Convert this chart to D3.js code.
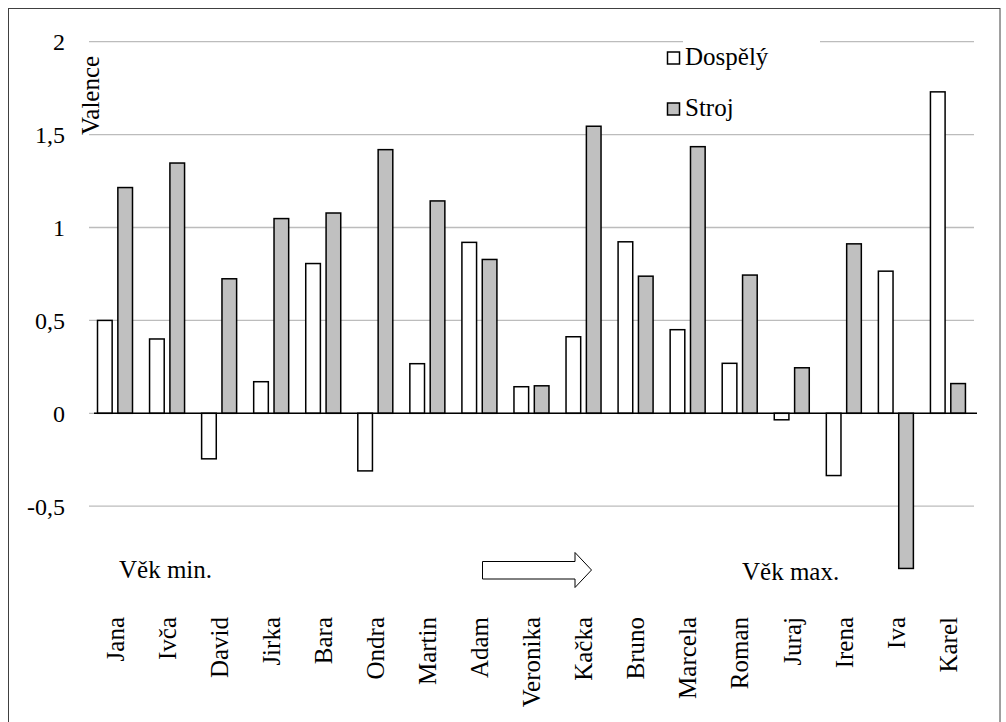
<!DOCTYPE html>
<html><head><meta charset="utf-8">
<script src="https://cdn.jsdelivr.net/npm/d3@7"></script>
<style>html,body{margin:0;padding:0;background:#fff;}svg{display:block;}
svg text{font-family:'Liberation Serif','Times New Roman',Tinos,Times,'DejaVu Serif',serif;}</style>
</head><body>
<script>
const categories = ["Jana","Ivča","David","Jirka","Bara","Ondra","Martin","Adam","Veronika","Kačka","Bruno","Marcela","Roman","Juraj","Irena","Iva","Karel"];
const seriesNames = ["Dospělý","Stroj"];
const dospely = [0.50,0.40,-0.245,0.17,0.806,-0.31,0.267,0.92,0.143,0.412,0.923,0.45,0.269,-0.035,-0.335,0.765,1.73];
const stroj   = [1.215,1.347,0.724,1.048,1.078,1.419,1.143,0.828,0.148,1.545,0.738,1.435,0.744,0.245,0.912,-0.835,0.16];
const yTicks = [-0.5,0,0.5,1,1.5,2];
const seriesFill = ["#ffffff","#c0c0c0"];

const W=1006,H=722;
const svg=d3.select("body").append("svg").attr("width",W).attr("height",H);
svg.append("rect").attr("width",W).attr("height",H).attr("fill","#fff");
svg.append("rect").attr("x",8.5).attr("y",8.5).attr("width",991.5).attr("height",730)
  .attr("fill","none").attr("stroke","#404040").attr("stroke-width",1);

const left=89,right=974;
const y=d3.scaleLinear().domain([-0.5,2]).range([506.2,41.7]);
const x0=d3.scaleBand().domain(categories).range([left,right]).padding(0);
const x1=d3.scaleBand().domain(seriesNames).range([8.5,43.5]).paddingInner(0.28).paddingOuter(0);

const loc=d3.formatLocale({decimal:",",thousands:" ",grouping:[3],currency:["",""],minus:"-"});
const fmt=loc.format("~g");

svg.append("g").selectAll("line").data(yTicks).join("line")
  .attr("x1",left).attr("x2",right).attr("y1",d=>y(d)).attr("y2",d=>y(d))
  .attr("stroke","#bcbcbc").attr("stroke-width",1.3);

const yAxis=d3.axisLeft(y).tickValues(yTicks).tickFormat(fmt).tickSize(0).tickPadding(0);
const ya=svg.append("g").attr("transform","translate(65,0)").call(yAxis);
ya.select(".domain").remove();
ya.attr("font-family",null);
ya.selectAll("text").attr("font-size",24).attr("fill","#000").attr("dy","0.33em");

svg.append("rect").attr("x",683).attr("y",30).attr("width",137).attr("height",96).attr("fill","#fff");

const data=[];
categories.forEach((c,i)=>{data.push({c,s:seriesNames[0],v:dospely[i],f:seriesFill[0]});data.push({c,s:seriesNames[1],v:stroj[i],f:seriesFill[1]});});
svg.append("g").selectAll("rect").data(data).join("rect")
  .attr("x",d=>x0(d.c)+x1(d.s)).attr("width",x1.bandwidth())
  .attr("y",d=>Math.min(y(d.v),y(0))).attr("height",d=>Math.abs(y(d.v)-y(0)))
  .attr("fill",d=>d.f).attr("stroke","#000").attr("stroke-width",1.5);

svg.append("line").attr("x1",94).attr("x2",977).attr("y1",y(0)).attr("y2",y(0))
  .attr("stroke","#000").attr("stroke-width",1.5);

svg.append("g").selectAll("text").data(categories).join("text")
  .attr("transform",d=>`translate(${x0(d)+x0.bandwidth()/2},617) rotate(-90)`)
  .attr("text-anchor","end").attr("dy","0.35em")
  .attr("font-size",25).attr("fill","#000").text(d=>d);

svg.append("text").attr("transform","translate(99,135) rotate(-90)")
  .attr("font-size",25).attr("fill","#000").text("Valence");

const legY=[64,115];
seriesNames.forEach((s,i)=>{
  svg.append("rect").attr("x",667.5).attr("y",legY[i]-12).attr("width",12).attr("height",12)
    .attr("fill",seriesFill[i]).attr("stroke","#000").attr("stroke-width",1.5);
  svg.append("text").attr("x",685).attr("y",legY[i]+1).attr("font-size",25)
    .attr("fill","#000").text(s);
});

svg.append("text").attr("x",119).attr("y",578).attr("font-size",25).text("Věk min.");
svg.append("text").attr("x",742).attr("y",580).attr("font-size",25).text("Věk max.");
svg.append("path").attr("d","M482.5,561.5 L575,561.5 L575,552.5 L591.5,570 L575,587.5 L575,579 L482.5,579 Z")
  .attr("fill","#fff").attr("stroke","#000").attr("stroke-width",1);
</script>
</body></html>
